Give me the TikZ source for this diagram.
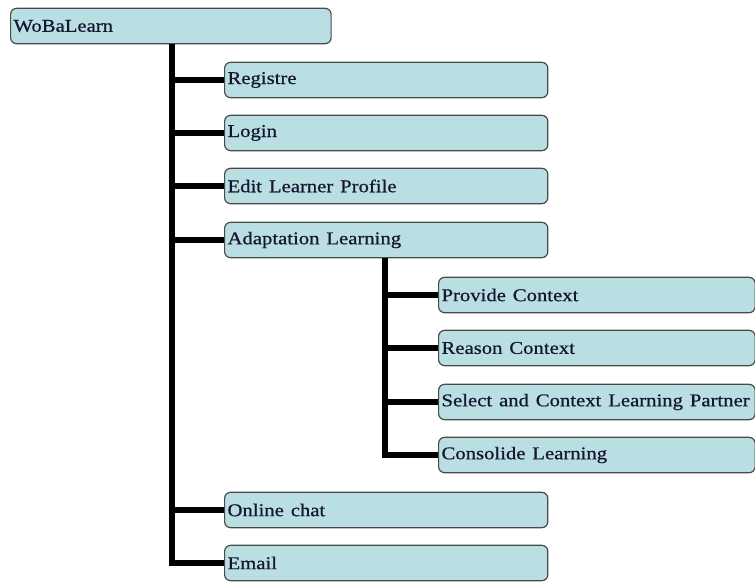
\documentclass[tikz,border=0pt]{standalone}
\usepackage{fontspec}
\setmainfont{Liberation Serif}
\newfontfamily\boxfont[FakeBold=0.6]{Liberation Serif}
\usepackage{graphicx}
\definecolor{boxfill}{HTML}{BADFE3}
\definecolor{boxline}{HTML}{4A4A4A}
\definecolor{txt}{HTML}{151530}
\newcommand{\lbl}[1]{\scalebox{1.15}[1]{#1}}
\begin{document}
\begin{tikzpicture}[x=0.75pt,y=-0.75pt,
  box/.style={draw=boxline, line width=0.9pt, fill=boxfill, rounded corners=4.5pt,
    anchor=west, minimum height=26.5pt, inner xsep=2.2pt, inner ysep=0pt,
    text width=#1, align=left, text=txt,
    font=\boxfont\fontsize{13.5pt}{14pt}\selectfont},
  conn/.style={line width=3.8pt, black}]
\useasboundingbox (0,0) rectangle (755,581);
% nodes
\node[box=236pt] (root) at (10,26) {\lbl{WoBaLearn}};
\node[box=238pt] (reg) at (224,80) {\lbl{Registre}};
\node[box=238pt] (login) at (224,133) {\lbl{Login}};
\node[box=238pt] (edit) at (224,186) {\lbl{Edit Learner Profile}};
\node[box=238pt] (adapt) at (224,240) {\lbl{Adaptation Learning}};
\node[box=233pt] (prov) at (438,295) {\lbl{Provide Context}};
\node[box=233pt] (reas) at (438,348) {\lbl{Reason Context}};
\node[box=233pt] (sel) at (438,402) {\lbl{Select and Context Learning Partner}};
\node[box=233pt] (cons) at (438,455) {\lbl{Consolide Learning}};
\node[box=238pt] (chat) at (224,510) {\lbl{Online chat}};
\node[box=238pt] (mail) at (224,563) {\lbl{Email}};
% trunk coordinates
\coordinate (t1) at (172,44);
\coordinate (t2) at (385,258);
% connectors
\foreach \n in {reg,login,edit,adapt,chat,mail}
  \draw[conn] (t1 |- root.south) |- (\n.west);
\foreach \n in {prov,reas,sel,cons}
  \draw[conn] (t2 |- adapt.south) |- (\n.west);
\end{tikzpicture}
\end{document}
